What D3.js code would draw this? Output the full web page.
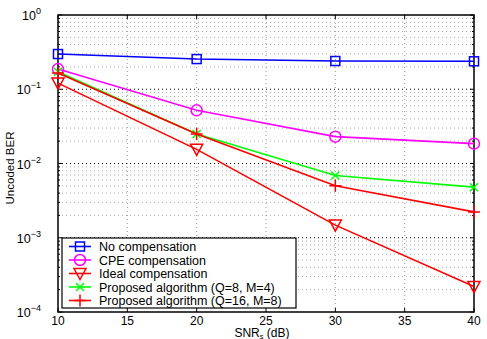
<!DOCTYPE html>
<html>
<head>
<meta charset="utf-8">
<script src="https://cdn.jsdelivr.net/npm/d3@7"></script>
<style>
  body { margin: 0; background: #fff; }
  text { font-family: "Liberation Sans", Arial, Helvetica, sans-serif; fill: #000; }
</style>
</head>
<body>
<script>
// data
const snr = [10, 20, 30, 40];
const noComp = [0.298, 0.255, 0.24, 0.238];
const cpeComp = [0.187, 0.052, 0.023, 0.0185];
const idealComp = [0.121, 0.0155, 0.00148, 0.00022];
const propQ8 = [0.172, 0.025, 0.0069, 0.0048];
const propQ16 = [0.165, 0.025, 0.005, 0.00223];
const seriesNames = ['No compensation', 'CPE compensation', 'Ideal compensation',
  'Proposed algorithm (Q=8, M=4)', 'Proposed algorithm (Q=16, M=8)'];
const xTicks = [10, 15, 20, 25, 30, 35, 40];
const yDecades = [-4, -3, -2, -1, 0];

const series = [
  { name: seriesNames[0], values: noComp, color: '#0000ff', marker: 'square' },
  { name: seriesNames[1], values: cpeComp, color: '#ff00ff', marker: 'circle' },
  { name: seriesNames[2], values: idealComp, color: '#ff0000', marker: 'tri' },
  { name: seriesNames[3], values: propQ8, color: '#00ff00', marker: 'x' },
  { name: seriesNames[4], values: propQ16, color: '#ff0000', marker: 'plus' }
];

const W = 487, H = 339;
const m = { left: 58, right: 13, top: 15, bottom: 27 };

const svg = d3.select('body').append('svg').attr('width', W).attr('height', H);

const x = d3.scaleLinear().domain([10, 40]).range([m.left, W - m.right]);
const y = d3.scaleLog().domain([1e-4, 1]).range([H - m.bottom, m.top]);

const g = svg.append('g');

// grid
const minors = [];
yDecades.slice(0, -1).forEach(e => { for (let k = 2; k <= 9; k++) minors.push(k * Math.pow(10, e)); });
g.selectAll('.gminor').data(minors).enter().append('line')
  .attr('x1', x(10)).attr('x2', x(40))
  .attr('y1', d => y(d)).attr('y2', d => y(d))
  .attr('stroke', '#aaa').attr('stroke-width', 1).attr('stroke-dasharray', '1,3');
g.selectAll('.gmajor').data(yDecades.slice(1, -1)).enter().append('line')
  .attr('x1', x(10)).attr('x2', x(40))
  .attr('y1', d => y(Math.pow(10, d))).attr('y2', d => y(Math.pow(10, d)))
  .attr('stroke', '#000').attr('stroke-width', 1).attr('stroke-dasharray', '1,3');
g.selectAll('.gx').data(xTicks.slice(1, -1)).enter().append('line')
  .attr('x1', d => x(d)).attr('x2', d => x(d))
  .attr('y1', y(1)).attr('y2', y(1e-4))
  .attr('stroke', '#999').attr('stroke-width', 1).attr('stroke-dasharray', '1,3');

// ticks (inside, on all sides)
const tickG = g.append('g').attr('stroke', '#000').attr('stroke-width', 1);
xTicks.forEach(t => {
  tickG.append('line').attr('x1', x(t)).attr('x2', x(t)).attr('y1', y(1e-4)).attr('y2', y(1e-4) - 4);
  tickG.append('line').attr('x1', x(t)).attr('x2', x(t)).attr('y1', y(1)).attr('y2', y(1) + 4);
});
yDecades.forEach(e => {
  const v = Math.pow(10, e);
  tickG.append('line').attr('x1', x(10)).attr('x2', x(10) + 4).attr('y1', y(v)).attr('y2', y(v));
  tickG.append('line').attr('x1', x(40)).attr('x2', x(40) - 4).attr('y1', y(v)).attr('y2', y(v));
});
minors.forEach(v => {
  tickG.append('line').attr('x1', x(10)).attr('x2', x(10) + 2).attr('y1', y(v)).attr('y2', y(v));
  tickG.append('line').attr('x1', x(40)).attr('x2', x(40) - 2).attr('y1', y(v)).attr('y2', y(v));
});

// frame
g.append('rect').attr('x', x(10)).attr('y', y(1))
  .attr('width', x(40) - x(10)).attr('height', y(1e-4) - y(1))
  .attr('fill', 'none').attr('stroke', '#000').attr('stroke-width', 1.5);

// tick labels
g.selectAll('.xl').data(xTicks).enter().append('text')
  .attr('x', d => x(d)).attr('y', y(1e-4) + 13)
  .attr('text-anchor', 'middle').attr('font-size', 12).text(d => d);
yDecades.forEach(e => {
  const t = g.append('text').attr('x', x(10) - 17).attr('y', y(Math.pow(10, e)) + 5)
    .attr('text-anchor', 'end').attr('font-size', 12.5);
  t.append('tspan').text('10');
  t.append('tspan').attr('dy', -6).attr('font-size', 9).text(e === 0 ? '0' : '\u2212' + (-e));
});

// axis labels
const xl = g.append('text').attr('x', 262).attr('y', H - 2)
  .attr('text-anchor', 'middle').attr('font-size', 12);
xl.append('tspan').text('SNR');
xl.append('tspan').attr('dy', 1.5).attr('font-size', 7.5).text('s');
xl.append('tspan').attr('dy', -1.5).text(' (dB)');

g.append('text').attr('transform', 'translate(14,168) rotate(-90)')
  .attr('text-anchor', 'middle').attr('font-size', 11.5).text('Uncoded BER');

// markers
function drawMarker(sel, type, color) {
  if (type === 'square') {
    sel.append('rect').attr('x', -4.5).attr('y', -4.5).attr('width', 9).attr('height', 9)
      .attr('fill', 'none').attr('stroke', color).attr('stroke-width', 1.5);
  } else if (type === 'circle') {
    sel.append('circle').attr('r', 5.5).attr('fill', 'none').attr('stroke', color).attr('stroke-width', 1.5);
  } else if (type === 'tri') {
    sel.append('path').attr('d', 'M-6,-5L6,-5L0,6Z')
      .attr('fill', 'none').attr('stroke', color).attr('stroke-width', 1.5);
  } else if (type === 'x') {
    sel.append('path').attr('d', 'M-4,-4L4,4M-4,4L4,-4')
      .attr('stroke', color).attr('stroke-width', 1.5);
  } else if (type === 'plus') {
    sel.append('path').attr('d', 'M-6,0L6,0M0,-6L0,6')
      .attr('stroke', color).attr('stroke-width', 1.5);
  }
}

const line = d3.line().x((d, i) => x(snr[i])).y(d => y(d));

series.forEach(s => {
  g.append('path').attr('d', line(s.values))
    .attr('fill', 'none').attr('stroke', s.color).attr('stroke-width', 1.6);
  s.values.forEach((v, i) => {
    const mg = g.append('g').attr('transform', `translate(${x(snr[i])},${y(v)})`);
    drawMarker(mg, s.marker, s.color);
  });
});

// legend
const lg = g.append('g');
lg.append('rect').attr('x', 62).attr('y', 238).attr('width', 234).attr('height', 70)
  .attr('fill', '#fff').attr('stroke', '#000').attr('stroke-width', 1.2);
series.forEach((s, i) => {
  const ly = 246.5 + i * 13.5;
  lg.append('line').attr('x1', 69).attr('x2', 91).attr('y1', ly).attr('y2', ly)
    .attr('stroke', s.color).attr('stroke-width', 1.6);
  const mg = lg.append('g').attr('transform', `translate(80,${ly})`);
  drawMarker(mg, s.marker, s.color);
  lg.append('text').attr('x', 99).attr('y', ly + 4.5).attr('font-size', 12.5).text(s.name);
});
</script>
</body>
</html>
